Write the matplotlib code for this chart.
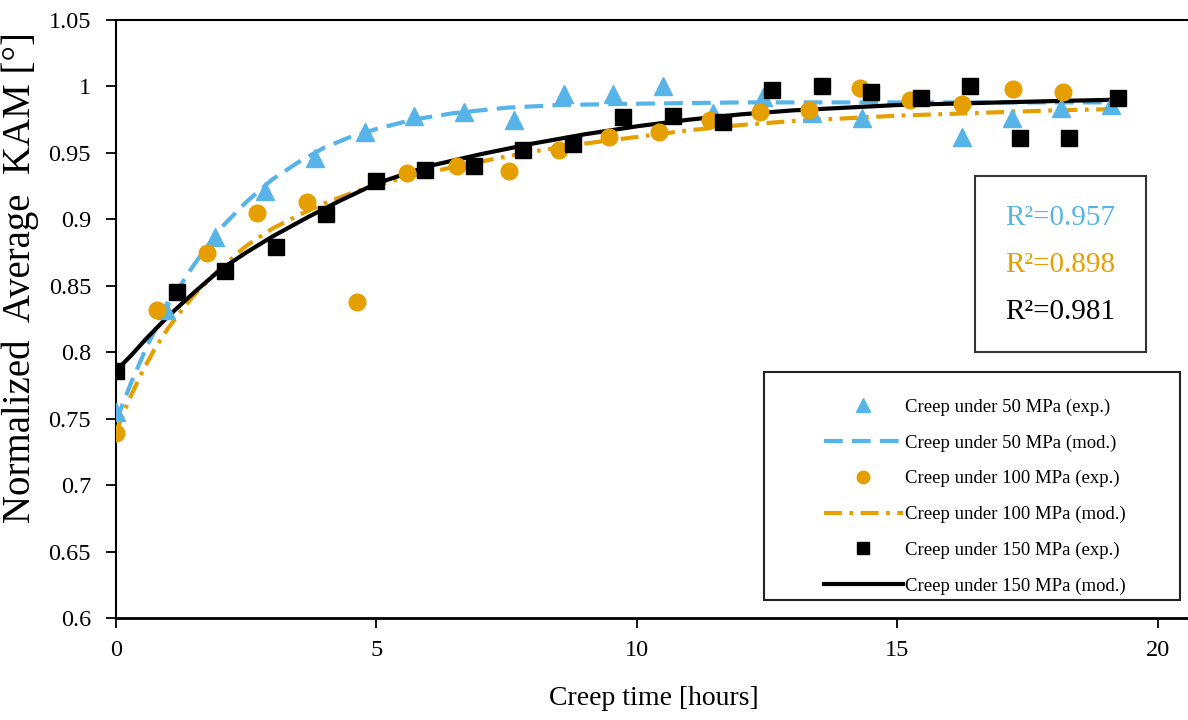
import numpy as np
import matplotlib
matplotlib.use('Agg')
import matplotlib.pyplot as plt
from matplotlib.patches import Rectangle

plt.rcParams['font.family'] = ['Liberation Serif', 'DejaVu Serif']

blue = '#56B4E9'
orange = '#E69F00'

# experimental points
t50 = [0, 0.96, 1.91, 2.87, 3.82, 4.78, 5.73, 6.69, 7.64, 8.6, 9.55, 10.5,
       11.46, 12.42, 13.37, 14.33, 16.24, 17.2, 18.15, 19.1]
k50 = [0.755, 0.832, 0.887, 0.921, 0.946, 0.966, 0.978, 0.981, 0.975, 0.994, 0.994, 1.0,
       0.980, 0.992, 0.980, 0.976, 0.962, 0.976, 0.984, 0.986]

t100 = [0, 0.79, 1.75, 2.7, 3.67, 4.63, 5.58, 6.54, 7.54, 8.5, 9.46, 10.42,
        11.4, 12.36, 13.3, 14.28, 15.24, 16.24, 17.22, 18.18]
k100 = [0.739, 0.832, 0.875, 0.905, 0.913, 0.838, 0.935, 0.940, 0.936, 0.952, 0.962, 0.966,
        0.975, 0.981, 0.982, 0.999, 0.990, 0.987, 0.998, 0.996]

t150 = [0, 1.17, 2.1, 3.07, 4.03, 5.0, 5.93, 6.87, 7.81, 8.77, 9.73, 10.7,
        11.65, 12.6, 13.55, 14.5, 15.45, 16.4, 17.35, 18.3, 19.23]
k150 = [0.786, 0.845, 0.861, 0.879, 0.904, 0.929, 0.937, 0.940, 0.952, 0.957, 0.977, 0.978,
        0.973, 0.997, 1.0, 0.996, 0.991, 1.0, 0.961, 0.961, 0.991]

# model curves
m50_t = [0, 0.3, 0.6, 1.0, 1.5, 2.0, 2.5, 3.0, 3.5, 4.0, 4.5, 5.0, 5.7, 6.5, 7.5, 8.5, 10, 12, 19.2]
m50_k = [0.748, 0.778, 0.805, 0.836, 0.866, 0.893, 0.913, 0.930, 0.943, 0.954, 0.962, 0.968,
         0.975, 0.980, 0.984, 0.986, 0.987, 0.988, 0.988]

m100_t = [0, 0.25, 0.5, 0.75, 1.0, 1.25, 1.5, 2.0, 2.5, 3.0, 3.5, 4.0, 4.6, 5.5, 6.2, 7.2, 8.0,
          9.0, 10.0, 11.0, 12.0, 13.0, 14.0, 15.0, 16.5, 18.0, 19.2]
m100_k = [0.740, 0.764, 0.785, 0.803, 0.818, 0.831, 0.843, 0.863, 0.880, 0.893, 0.903, 0.912,
          0.921, 0.931, 0.937, 0.945, 0.951, 0.957, 0.962, 0.967, 0.971, 0.974, 0.976, 0.978,
          0.980, 0.982, 0.983]

m150_t = [0, 0.3, 0.6, 1.0, 1.5, 2.0, 2.5, 3.0, 3.7, 4.3, 5.0, 6.0, 7.0, 8.0, 9.0, 10, 11, 12,
          13, 14, 15, 16, 17, 18, 19.2]
m150_k = [0.786, 0.798, 0.811, 0.827, 0.845, 0.862, 0.875, 0.887, 0.902, 0.914, 0.927, 0.940,
          0.949, 0.957, 0.964, 0.970, 0.975, 0.979, 0.982, 0.984, 0.986, 0.987, 0.988, 0.989, 0.990]

r2_labels = ['R²=0.957', 'R²=0.898', 'R²=0.981']
r2_colors = [blue, orange, 'black']

fig = plt.figure(figsize=(11.88, 7.2), dpi=100)
ax = fig.add_axes([116 / 1188, 102 / 720, 1072 / 1188, 598 / 720])

ax.plot(m50_t, m50_k, color=blue, lw=3, dashes=(4.5, 2.2), zorder=2)
ax.plot(m100_t, m100_k, color=orange, lw=3, dashes=(4.3, 1.8, 0.9, 1.8), zorder=2)
ax.plot(m150_t, m150_k, color='black', lw=3, zorder=2)

h1, = ax.plot(t50, k50, '^', color=blue, ms=12.5, ls='none', zorder=3)
h3, = ax.plot(t100, k100, 'o', color=orange, ms=12, ls='none', zorder=3)
h5, = ax.plot(t150, k150, 's', color='black', ms=11.5, ls='none', zorder=4)

# legend handles
l2, = ax.plot([], [], color=blue, lw=3, dashes=(4.5, 2.2))
l4, = ax.plot([], [], color=orange, lw=3, dashes=(4.3, 1.8, 0.9, 1.8))
l6, = ax.plot([], [], color='black', lw=3)

ax.set_xlim(0, 20.58)
ax.set_ylim(0.6, 1.05)
ax.set_xticks([0, 5, 10, 15, 20])
ax.set_yticks(np.arange(0.6, 1.051, 0.05))
ax.set_yticklabels(['0.6', '0.65', '0.7', '0.75', '0.8', '0.85', '0.9', '0.95', '1', '1.05'])
ax.tick_params(axis='both', direction='out', labelsize=17.5, width=1.3, length=7)
ax.tick_params(axis='x', pad=9)
ax.tick_params(axis='y', pad=11)
ax.spines['right'].set_visible(False)
for s in ['left', 'top', 'bottom']:
    ax.spines[s].set_linewidth(1.5)
ax.spines['bottom'].set_linewidth(2)

ax.set_xlabel('Creep time [hours]', fontsize=20)
ax.xaxis.set_label_coords(0.502, -0.113)
ax.set_ylabel('Normalized  Average  KAM [°]', fontsize=28)
ax.yaxis.set_label_coords(-0.072, 0.569)

# R^2 box
ax.add_patch(Rectangle((0.801, 0.445), 0.16, 0.294, transform=ax.transAxes,
                       fill=False, ec='#333333', lw=1.5, zorder=5))
for lab, col, yy in zip(r2_labels, r2_colors, [0.669, 0.590, 0.512]):
    ax.text(0.881, yy, lab, color=col, fontsize=21, ha='center', va='center',
            transform=ax.transAxes)

# legend box
ax.add_patch(Rectangle((0.6045, 0.03), 0.388, 0.381, transform=ax.transAxes,
                       fill=False, ec='#222222', lw=1.5, zorder=5))
leg = ax.legend([h1, l2, h3, l4, h5, l6],
                ['Creep under 50 MPa (exp.)', 'Creep under 50 MPa (mod.)',
                 'Creep under 100 MPa (exp.)', 'Creep under 100 MPa (mod.)',
                 'Creep under 150 MPa (exp.)', 'Creep under 150 MPa (mod.)'],
                loc='upper left', bbox_to_anchor=(0.655, 0.376), frameon=False,
                fontsize=13.5, handlelength=4.2, handletextpad=0.15,
                labelspacing=0.98, markerscale=0.75, borderaxespad=0, borderpad=0.3)

fig.savefig('out.png', dpi=100)
